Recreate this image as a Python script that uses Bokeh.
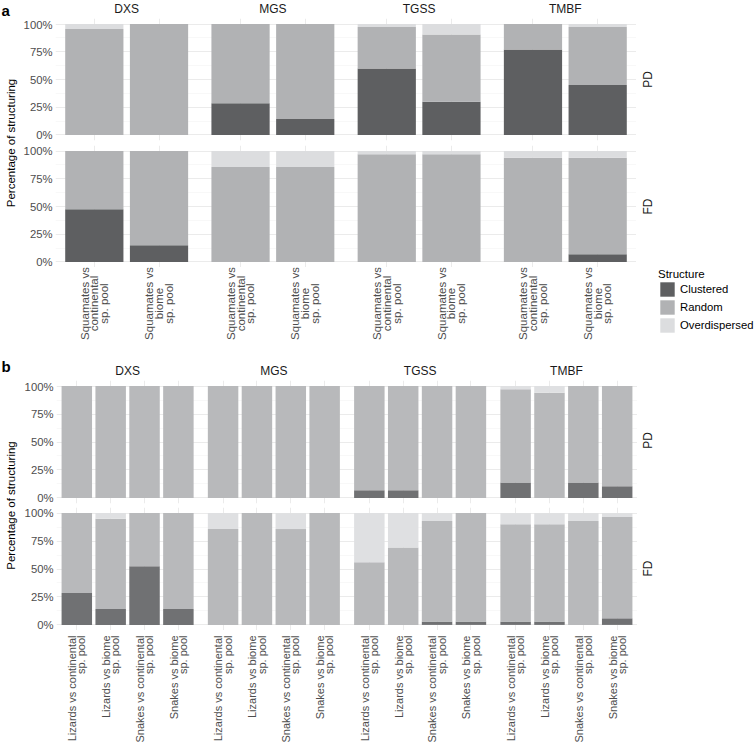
from math import pi
from bokeh.plotting import figure
from bokeh.models import (ColumnDataSource, FactorRange, Range1d, FixedTicker,
                          NumeralTickFormatter, CategoricalTicker, LabelSet, Label,
                          Legend, LegendItem)
from bokeh.layouts import row, column
from bokeh.core.properties import value
from bokeh.embed import file_html
from bokeh.resources import INLINE

FONT = "Liberation Sans"

# ---------------- data ----------------
biomes = ["DXS", "MGS", "TGSS", "TMBF"]
structures = ["Clustered", "Random", "Overdispersed"]
y_ticks = [0, 0.25, 0.5, 0.75, 1.0]
y_minor_ticks = [0.125, 0.375, 0.625, 0.875]

a_comparisons = ["Squamates vs continental sp. pool", "Squamates vs biome sp. pool"]
a_tick_labels = ["Squamates vs\ncontinental\nsp. pool", "Squamates vs\nbiome\nsp. pool"]

b_comparisons = ["Lizards vs continental sp. pool", "Lizards vs biome sp. pool",
                 "Snakes vs continental sp. pool", "Snakes vs biome sp. pool"]
b_tick_labels = ["Lizards vs continental\nsp. pool", "Lizards vs biome\nsp. pool",
                 "Snakes vs continental\nsp. pool", "Snakes vs biome\nsp. pool"]

# panel a (order: DXS, MGS, TGSS, TMBF; continental then biome pool)
a_pd_clustered = [0.0, 0.0, 0.286, 0.143, 0.60, 0.30, 0.77, 0.45]
a_pd_random = [0.955, 1.0, 0.714, 0.857, 0.373, 0.605, 0.23, 0.523]
a_pd_overdispersed = [0.045, 0.0, 0.0, 0.0, 0.027, 0.095, 0.0, 0.027]

a_fd_clustered = [0.476, 0.15, 0.0, 0.0, 0.0, 0.0, 0.0, 0.07]
a_fd_random = [0.524, 0.85, 0.857, 0.857, 0.97, 0.97, 0.94, 0.87]
a_fd_overdispersed = [0.0, 0.0, 0.143, 0.143, 0.03, 0.03, 0.06, 0.06]

# panel b (per biome: lizards-cont, lizards-biome, snakes-cont, snakes-biome)
b_pd_clustered = [0, 0, 0, 0,  0, 0, 0, 0,  0.068, 0.068, 0, 0,  0.137, 0.0, 0.137, 0.104]
b_pd_random = [1, 1, 1, 1,  1, 1, 1, 1,  0.932, 0.932, 1, 1,  0.834, 0.94, 0.863, 0.896]
b_pd_overdispersed = [0, 0, 0, 0,  0, 0, 0, 0,  0, 0, 0, 0,  0.029, 0.06, 0, 0]

b_fd_clustered = [0.286, 0.143, 0.524, 0.143,  0, 0, 0, 0,  0, 0, 0.03, 0.03,  0.03, 0.03, 0.0, 0.059]
b_fd_random = [0.714, 0.806, 0.476, 0.857,  0.857, 1.0, 0.857, 1.0,  0.56, 0.693, 0.899, 0.97,  0.87, 0.87, 0.929, 0.906]
b_fd_overdispersed = [0, 0.051, 0, 0,  0.143, 0, 0.143, 0,  0.44, 0.307, 0.071, 0,  0.1, 0.1, 0.071, 0.035]

# ---------------- styles ----------------
a_colors = ["#5e5f61", "#b1b2b4", "#dcdddf"]
b_colors = ["#707173", "#b8b9bb", "#dfe0e2"]
GRID = "#ebebeb"
GRID_MINOR = "#f4f4f4"
STRIP_COLOR = "#1a1a1a"
TICK_COLOR = "#4d4d4d"

a_factors = [(bi, c) for bi in biomes for c in a_comparisons]
a_labels = [t for bi in biomes for t in a_tick_labels]
b_factors = [(bi, c) for bi in biomes for c in b_comparisons]
b_labels = [t for bi in biomes for t in b_tick_labels]

a_xrange = FactorRange(factors=a_factors, factor_padding=0, group_padding=0.26,
                       range_padding=0.1, range_padding_units="absolute")
b_xrange = FactorRange(factors=b_factors, factor_padding=0, group_padding=0.32,
                       range_padding=0.1, range_padding_units="absolute")


def blank(width, height, x_range=None, y_range=None, bl=0):
    f = figure(width=width, height=height,
               x_range=x_range if x_range is not None else Range1d(0, width),
               y_range=y_range if y_range is not None else Range1d(0, height),
               x_axis_type=None, y_axis_type=None, output_backend="svg",
               toolbar_location=None, title=None, min_border=0, min_border_left=bl)
    f.outline_line_color = None
    f.background_fill_color = None
    f.border_fill_color = None
    return f


def panel_row(xr, factors, clustered, random_, overdispersed, colors,
              width, height, bl, bt, bb):
    p = figure(x_range=xr, y_range=Range1d(-0.05, 1.05), width=width, height=height,
               output_backend="svg", toolbar_location=None, x_axis_location=None,
               title=None, min_border_left=bl, min_border_right=0,
               min_border_top=bt, min_border_bottom=bb)
    p.outline_line_color = None
    p.background_fill_color = "white"
    p.border_fill_color = None

    ticker = FixedTicker(ticks=y_ticks, minor_ticks=y_minor_ticks)
    p.yaxis.ticker = ticker
    p.yaxis.formatter = NumeralTickFormatter(format="0%")
    p.yaxis.axis_line_color = None
    p.yaxis.major_tick_line_color = None
    p.yaxis.minor_tick_line_color = None
    p.yaxis.major_tick_out = 0
    p.yaxis.minor_tick_out = 0
    p.yaxis.major_label_standoff = 3
    p.yaxis.major_label_text_font = FONT
    p.yaxis.major_label_text_font_size = "11.3px"
    p.yaxis.major_label_text_color = TICK_COLOR

    p.ygrid.ticker = ticker
    p.ygrid.grid_line_color = GRID
    p.ygrid.grid_line_width = 1
    p.ygrid.minor_grid_line_color = GRID_MINOR
    p.ygrid.minor_grid_line_width = 0.6
    p.xgrid.ticker = CategoricalTicker()
    p.xgrid.grid_line_color = GRID
    p.xgrid.grid_line_width = 1

    src = ColumnDataSource(dict(x=factors, Clustered=clustered, Random=random_,
                                Overdispersed=overdispersed))
    p.vbar_stack(structures, x="x", width=0.9, source=src,
                 fill_color=colors, line_color=None)
    return p


def strip_fig(xr, width, height, bl, y):
    f = blank(width, height, x_range=xr, y_range=Range1d(0, height), bl=bl)
    src = ColumnDataSource(dict(x=biomes, text=biomes))
    f.add_layout(LabelSet(x="x", y=y, text="text", source=src,
                          text_align="center", text_baseline="middle",
                          text_font=value(FONT), text_font_size=value("12px"),
                          text_color=STRIP_COLOR))
    return f


def ticks_fig(xr, factors, labels, width, height, bl, y, align, size, spacing):
    """One LabelSet per text line, so that lines can be justified like ggplot."""
    f = blank(width, height, x_range=xr, y_range=Range1d(0, height), bl=bl)
    split = [lab.split("\n") for lab in labels]
    n_lines = max(len(s) for s in split)
    for i in range(n_lines):
        xs, texts = [], []
        for fac, lines in zip(factors, split):
            if i < len(lines):
                xs.append(fac)
                texts.append(lines[i])
        off = (i - (n_lines - 1) / 2) * spacing
        src = ColumnDataSource(dict(x=xs, text=texts))
        f.add_layout(LabelSet(x="x", y=y, text="text", source=src, x_offset=off,
                              angle=pi / 2, text_align=align, text_baseline="middle",
                              text_font=value(FONT), text_font_size=value(size),
                              text_color=TICK_COLOR))
    return f


def vtext(f, text, x, y, size, color):
    f.add_layout(Label(x=x, y=y, text=text, angle=pi / 2,
                       text_align="center", text_baseline="middle",
                       text_font=FONT, text_font_size=size, text_color=color))


def title_strip(height, letter, title_y, letter_y):
    f = blank(20, height)
    vtext(f, "Percentage of structuring", 10, title_y, "11.5px", "#000000")
    f.add_layout(Label(x=1, y=letter_y, text=letter, text_align="left",
                       text_baseline="top", text_font=FONT, text_font_size="15px",
                       text_font_style="bold", text_color="#000000"))
    return f


# ---------------- panel a ----------------
SA = strip_fig(a_xrange, 616, 18, 32, 10)
A1 = panel_row(a_xrange, a_factors, a_pd_clustered, a_pd_random, a_pd_overdispersed,
               a_colors, 616, 125, 32, 0, 3)
A2 = panel_row(a_xrange, a_factors, a_fd_clustered, a_fd_random, a_fd_overdispersed,
               a_colors, 616, 124, 32, 2, 0)
KA = ticks_fig(a_xrange, a_factors, a_labels, 616, 83, 32, 47, "center", "11.5px", 9.8)

TA = title_strip(350, "a", 207.5, 349)

RA = blank(119, 350)
vtext(RA, "PD", 11, 271, "12px", STRIP_COLOR)
vtext(RA, "FD", 11, 144, "12px", STRIP_COLOR)
# zero-size proxy glyphs that only carry the legend swatches
legend_renderers = [RA.vbar(x=[0], top=[0], bottom=[0], width=0,
                            fill_color=c, line_color=None)
                    for c in a_colors]
legend = Legend(items=[LegendItem(label=s, renderers=[r])
                       for s, r in zip(structures, legend_renderers)],
                location=(22, 16), title="Structure", orientation="vertical",
                padding=0, margin=0, spacing=-3, glyph_width=18, glyph_height=18,
                label_height=18, label_standoff=4, title_standoff=0,
                border_line_color=None, background_fill_alpha=0,
                label_text_font=FONT, label_text_font_size="11.3px",
                title_text_font=FONT, title_text_font_size="11.5px",
                title_text_font_style="normal", label_text_color="#000000",
                title_text_color="#000000")
RA.add_layout(legend, "center")

# ---------------- panel b ----------------
SB = strip_fig(b_xrange, 617, 30, 36, 10)
B1 = panel_row(b_xrange, b_factors, b_pd_clustered, b_pd_random, b_pd_overdispersed,
               b_colors, 617, 125, 36, 0, 2)
B2 = panel_row(b_xrange, b_factors, b_fd_clustered, b_fd_random, b_fd_overdispersed,
               b_colors, 617, 125, 36, 2, 0)
KB = ticks_fig(b_xrange, b_factors, b_labels, 617, 118, 36, 113, "right", "11px", 9.3)

TB = title_strip(398, "b", 243, 391)

RB = blank(118, 398)
vtext(RB, "PD", 10, 308, "12px", STRIP_COLOR)
vtext(RB, "FD", 10, 180, "12px", STRIP_COLOR)

layout = column(
    row(TA, column(SA, A1, A2, KA), RA),
    row(TB, column(SB, B1, B2, KB), RB),
)

open("out.html", "w").write(file_html(layout, INLINE))
